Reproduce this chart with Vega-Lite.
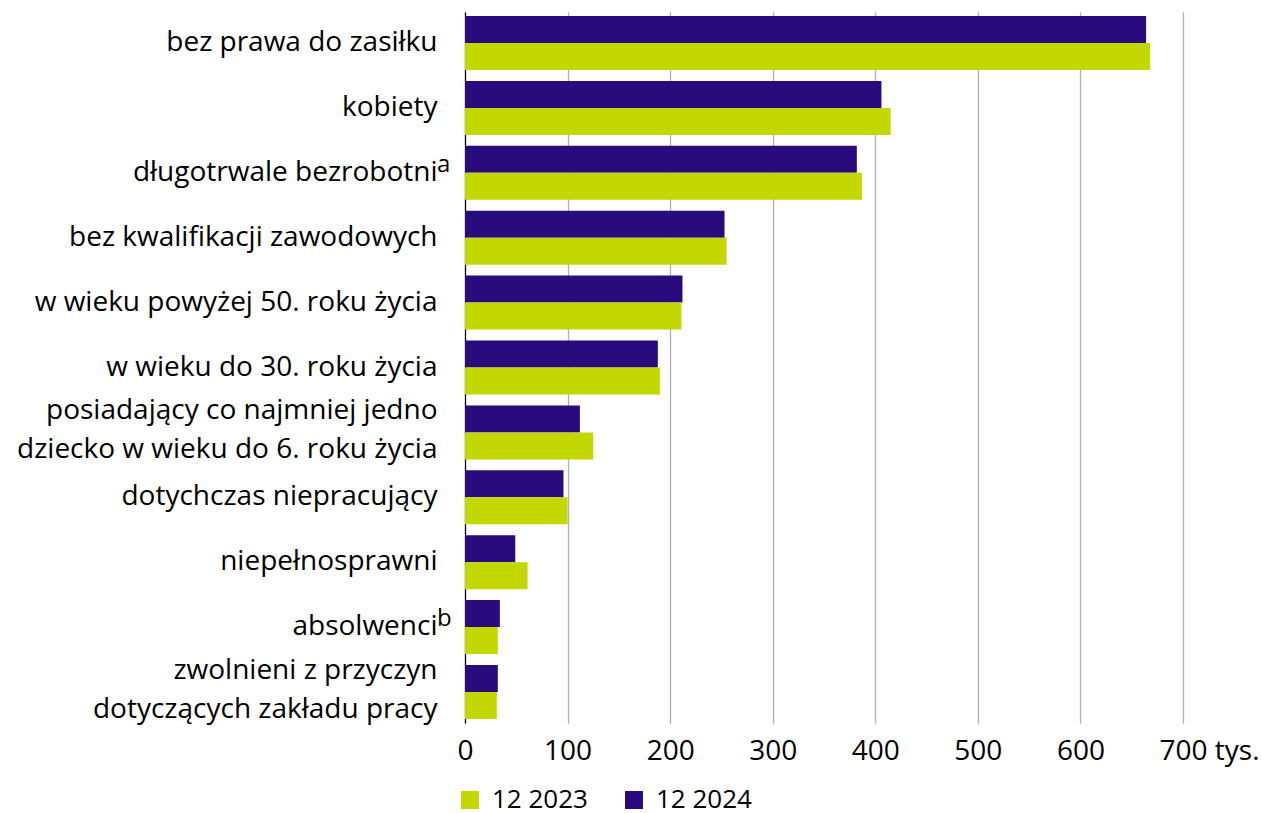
{
  "$schema": "https://vega.github.io/schema/vega-lite/v6.json",
  "width": 718,
  "height": 711,
  "autosize": "none",
  "padding": {"left": 465, "top": 12, "right": 78, "bottom": 90},
  "background": "white",
  "config": {
    "font": "Open Sans",
    "view": {"stroke": null},
    "axis": {"labelFont": "Open Sans", "labelColor": "#000000"},
    "legend": {"labelFont": "Open Sans", "labelColor": "#000000"}
  },
  "datasets": {
    "bars": [
      {"kategoria": "bez prawa do zasiłku", "okres": "12 2024", "wartosc": 664},
      {"kategoria": "bez prawa do zasiłku", "okres": "12 2023", "wartosc": 668},
      {"kategoria": "kobiety", "okres": "12 2024", "wartosc": 406},
      {"kategoria": "kobiety", "okres": "12 2023", "wartosc": 415},
      {"kategoria": "długotrwale bezrobotni", "okres": "12 2024", "wartosc": 382},
      {"kategoria": "długotrwale bezrobotni", "okres": "12 2023", "wartosc": 387},
      {"kategoria": "bez kwalifikacji zawodowych", "okres": "12 2024", "wartosc": 253},
      {"kategoria": "bez kwalifikacji zawodowych", "okres": "12 2023", "wartosc": 255},
      {"kategoria": "w wieku powyżej 50. roku życia", "okres": "12 2024", "wartosc": 212},
      {"kategoria": "w wieku powyżej 50. roku życia", "okres": "12 2023", "wartosc": 211},
      {"kategoria": "w wieku do 30. roku życia", "okres": "12 2024", "wartosc": 188},
      {"kategoria": "w wieku do 30. roku życia", "okres": "12 2023", "wartosc": 190},
      {"kategoria": "posiadający co najmniej jedno dziecko w wieku do 6. roku życia", "okres": "12 2024", "wartosc": 112},
      {"kategoria": "posiadający co najmniej jedno dziecko w wieku do 6. roku życia", "okres": "12 2023", "wartosc": 125},
      {"kategoria": "dotychczas niepracujący", "okres": "12 2024", "wartosc": 96},
      {"kategoria": "dotychczas niepracujący", "okres": "12 2023", "wartosc": 100},
      {"kategoria": "niepełnosprawni", "okres": "12 2024", "wartosc": 49},
      {"kategoria": "niepełnosprawni", "okres": "12 2023", "wartosc": 61},
      {"kategoria": "absolwenci", "okres": "12 2024", "wartosc": 34},
      {"kategoria": "absolwenci", "okres": "12 2023", "wartosc": 32},
      {"kategoria": "zwolnieni z przyczyn dotyczących zakładu pracy", "okres": "12 2024", "wartosc": 32},
      {"kategoria": "zwolnieni z przyczyn dotyczących zakładu pracy", "okres": "12 2023", "wartosc": 31}
    ],
    "notes": [
      {"kategoria": "długotrwale bezrobotni", "przypis": "a"},
      {"kategoria": "absolwenci", "przypis": "b"}
    ]
  },
  "layer": [
    {
      "data": {"name": "bars"},
      "mark": {"type": "bar"},
      "encoding": {
        "y": {
          "field": "kategoria",
          "type": "nominal",
          "sort": ["bez prawa do zasiłku", "kobiety", "długotrwale bezrobotni", "bez kwalifikacji zawodowych", "w wieku powyżej 50. roku życia", "w wieku do 30. roku życia", "posiadający co najmniej jedno dziecko w wieku do 6. roku życia", "dotychczas niepracujący", "niepełnosprawni", "absolwenci", "zwolnieni z przyczyn dotyczących zakładu pracy"],
          "scale": {"paddingInner": 0.168, "paddingOuter": 0.062},
          "axis": {
            "title": null,
            "ticks": false,
            "domain": true,
            "domainColor": "#000000",
            "domainWidth": 1.2,
            "labelFontSize": 28,
            "labelPadding": 28,
            "labelLimit": 460,
            "labelLineHeight": 39,
            "labelOffset": {"condition": {"test": "length(datum.label) > 40", "value": -21}, "value": 0},
            "labelExpr": "datum.label == 'posiadający co najmniej jedno dziecko w wieku do 6. roku życia' ? ['posiadający co najmniej jedno', 'dziecko w wieku do 6. roku życia'] : datum.label == 'zwolnieni z przyczyn dotyczących zakładu pracy' ? ['zwolnieni z przyczyn', 'dotyczących zakładu pracy'] : datum.label"
          }
        },
        "yOffset": {
          "field": "okres",
          "type": "nominal",
          "sort": ["12 2024", "12 2023"]
        },
        "x": {
          "field": "wartosc",
          "type": "quantitative",
          "scale": {"domain": [0, 700], "nice": false},
          "axis": {
            "title": null,
            "values": [0, 100, 200, 300, 400, 500, 600, 700],
            "domain": false,
            "ticks": false,
            "grid": true,
            "gridColor": "#b0b0b0",
            "gridWidth": 1.3,
            "labelFontSize": 28,
            "labelPadding": 14,
            "labelFlush": false,
            "labelOverlap": false,
            "labelExpr": "datum.value == 700 ? '700 tys.' : datum.label",
            "labelAlign": {"condition": {"test": "datum.value == 700", "value": "left"}, "value": "center"},
            "labelOffset": {"condition": {"test": "datum.value == 700", "value": -24}, "value": 0}
          }
        },
        "color": {
          "field": "okres",
          "type": "nominal",
          "scale": {"domain": ["12 2023", "12 2024"], "range": ["#c2d800", "#290b7d"]},
          "legend": {
            "title": null,
            "orient": "none",
            "direction": "horizontal",
            "legendX": -8,
            "legendY": 775,
            "padding": 0,
            "symbolType": "square",
            "symbolSize": 324,
            "symbolStrokeWidth": 0,
            "labelFontSize": 26,
            "labelOffset": 9,
            "columnPadding": 33
          }
        }
      }
    },
    {
      "data": {"name": "notes"},
      "mark": {"type": "text", "align": "left", "baseline": "alphabetic", "dx": -28, "dy": -1, "fontSize": 24, "color": "#000000", "font": "Open Sans"},
      "encoding": {
        "y": {
          "field": "kategoria",
          "type": "nominal",
          "sort": ["bez prawa do zasiłku", "kobiety", "długotrwale bezrobotni", "bez kwalifikacji zawodowych", "w wieku powyżej 50. roku życia", "w wieku do 30. roku życia", "posiadający co najmniej jedno dziecko w wieku do 6. roku życia", "dotychczas niepracujący", "niepełnosprawni", "absolwenci", "zwolnieni z przyczyn dotyczących zakładu pracy"]
        },
        "x": {"datum": 0, "type": "quantitative"},
        "text": {"field": "przypis"}
      }
    }
  ]
}
